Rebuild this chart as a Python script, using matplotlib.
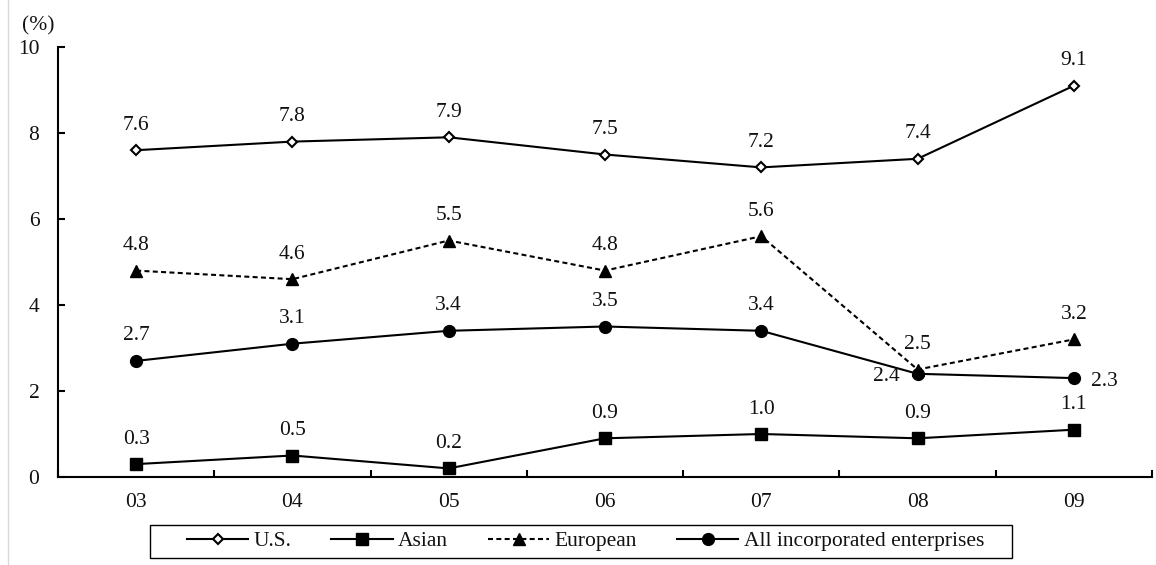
import matplotlib
matplotlib.use("Agg")
import matplotlib.pyplot as plt
from matplotlib.lines import Line2D
from matplotlib.patches import Rectangle

plt.rcParams['font.family'] = ['Liberation Serif', 'DejaVu Serif']

years = ['03', '04', '05', '06', '07', '08', '09']
us = [7.6, 7.8, 7.9, 7.5, 7.2, 7.4, 9.1]
asian = [0.3, 0.5, 0.2, 0.9, 1.0, 0.9, 1.1]
european = [4.8, 4.6, 5.5, 4.8, 5.6, 2.5, 3.2]
all_ent = [2.7, 3.1, 3.4, 3.5, 3.4, 2.4, 2.3]

FS = 15.5
W, H = 1156, 565

fig = plt.figure(figsize=(W / 100, H / 100), dpi=100)
ax = fig.add_axes([58 / W, 88 / H, 1094 / W, 430 / H])

x = list(range(len(years)))
ax.plot(x, us, color='black', lw=1.5, marker='D', ms=5.2, mfc='white',
        mec='black', mew=1.5, label='U.S.')
ax.plot(x, asian, color='black', lw=1.5, marker='s', ms=8, label='Asian')
ax.plot(x, european, color='black', lw=1.5, ls=(0, (2.4, 1.6)), marker='^',
        ms=8, label='European')
ax.plot(x, all_ent, color='black', lw=1.5, marker='o', ms=8.5,
        label='All incorporated enterprises')

# value labels, above each marker unless an offset is given
def put_labels(vals, special=None):
    special = special or {}
    for i, v in enumerate(vals):
        dx, dy = special.get(i, (0, 25))
        ax.annotate('%.1f' % v, (i, v), xytext=(dx, dy), textcoords='offset pixels',
                    ha='center', va='center', fontsize=FS, color='#111111')

put_labels(us)
put_labels(asian)
put_labels(european)
put_labels(all_ent, {5: (-31, -3), 6: (31, -3)})

ax.set_xlim(-0.5, 6.5)
ax.set_ylim(0, 10)
ax.set_yticks([0, 2, 4, 6, 8, 10])
ax.set_xticks(x)
ax.set_xticklabels(years)
ax.set_xticks([i + 0.5 for i in range(-1, 7)], minor=True)
ax.tick_params(axis='x', which='major', length=0, pad=11.5, labelsize=FS,
               labelcolor='#111111')
ax.tick_params(axis='x', which='minor', direction='in', length=5, width=1.5)
ax.tick_params(axis='y', direction='in', length=5, width=1.5, pad=13.5,
               labelsize=FS, labelcolor='#111111')
for s in ['top', 'right']:
    ax.spines[s].set_visible(False)
for s in ['left', 'bottom']:
    ax.spines[s].set_linewidth(1.5)

fig.text(22 / W, 1 - 26 / H, '(%)', fontsize=FS, ha='left', va='center',
         color='#111111')

# legend drawn without its own frame; the box around it is a separate patch
leg = fig.legend(loc='center', bbox_to_anchor=(585.5 / W, 1 - 541 / H), ncol=4,
                 fontsize=FS, frameon=False, handlelength=2.85,
                 handletextpad=0.25, columnspacing=1.85, borderpad=0.2)
for t in leg.get_texts():
    t.set_color('#111111')
fig.add_artist(Rectangle((150 / W, 1 - 558 / H), 862 / W, 33 / H,
                         transform=fig.transFigure, fill=False,
                         edgecolor='black', lw=1.0))

fig.add_artist(Line2D([8 / W, 8 / W], [0, 1], color='#d8d8d8', lw=1))

fig.savefig('out.png', dpi=100)
